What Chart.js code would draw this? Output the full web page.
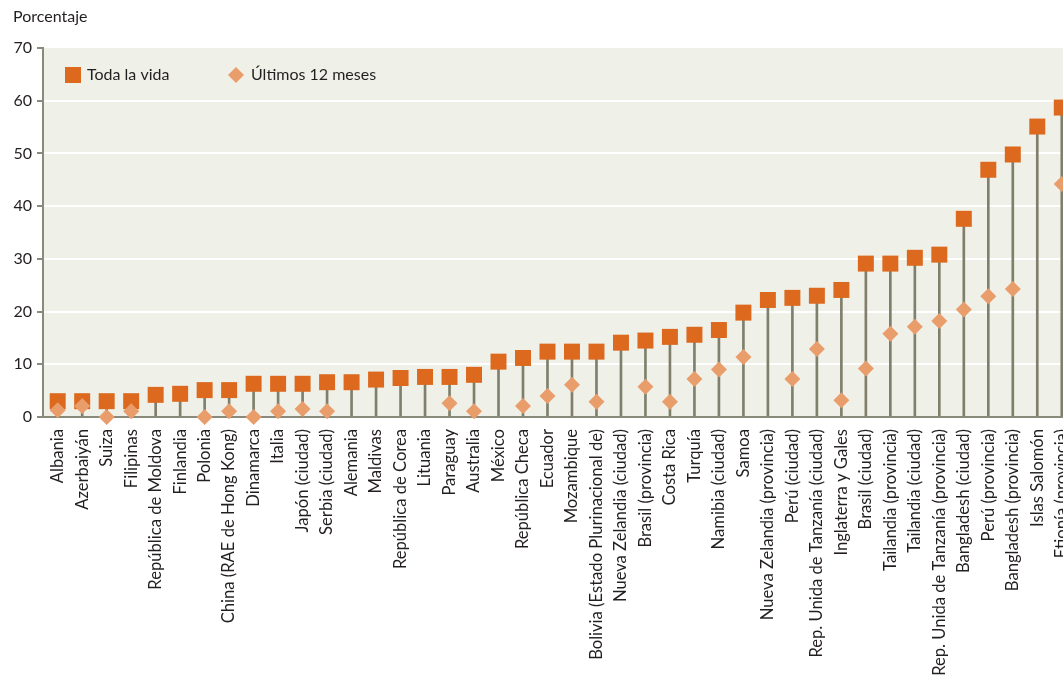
<!DOCTYPE html>
<html lang="es">
<head>
<meta charset="utf-8">
<title>Porcentaje</title>
<script src="https://cdn.jsdelivr.net/npm/chart.js@4.4.1/dist/chart.umd.min.js"></script>
<style>
  html, body { margin: 0; padding: 0; background: #fff; overflow: hidden; }
  .wrap { position: relative; width: 1063px; height: 680px; }
</style>
</head>
<body>
<div class="wrap"><canvas id="chart"></canvas></div>
<script>
const categories = [
  "Albania", "Azerbaiyán", "Suiza", "Filipinas", "República de Moldova",
  "Finlandia", "Polonia", "China (RAE de Hong Kong)", "Dinamarca", "Italia",
  "Japón (ciudad)", "Serbia (ciudad)", "Alemania", "Maldivas", "República de Corea",
  "Lituania", "Paraguay", "Australia", "México", "República Checa",
  "Ecuador", "Mozambique", "Bolivia (Estado Plurinacional de)", "Nueva Zelandia (ciudad)", "Brasil (provincia)",
  "Costa Rica", "Turquía", "Namibia (ciudad)", "Samoa", "Nueva Zelandia (provincia)",
  "Perú (ciudad)", "Rep. Unida de Tanzanía (ciudad)", "Inglaterra y Gales", "Brasil (ciudad)", "Tailandia (provincia)",
  "Tailandia (ciudad)", "Rep. Unida de Tanzanía (provincia)", "Bangladesh (ciudad)", "Perú (provincia)", "Bangladesh (provincia)",
  "Islas Salomón", "Etiopía (provincia)"
];

// Toda la vida
const lifetime = [
  3.0, 3.0, 3.0, 3.0, 4.2,
  4.4, 5.1, 5.1, 6.3, 6.3,
  6.3, 6.6, 6.6, 7.1, 7.4,
  7.6, 7.6, 8.0, 10.5, 11.2,
  12.4, 12.4, 12.4, 14.1, 14.5,
  15.2, 15.6, 16.5, 19.8, 22.2,
  22.6, 23.0, 24.1, 29.1, 29.1,
  30.2, 30.8, 37.6, 46.9, 49.8,
  55.1, 58.7
];

// Últimos 12 meses (null = sin dato)
const last12 = [
  1.3, 2.1, 0.0, 1.1, null,
  null, 0.0, 1.1, 0.0, 1.1,
  1.5, 1.1, null, null, null,
  null, 2.6, 1.1, null, 2.1,
  4.0, 6.1, 2.9, null, 5.75,
  2.9, 7.2, 9.0, 11.4, null,
  7.2, 12.9, 3.2, 9.2, 15.8,
  17.1, 18.2, 20.4, 22.9, 24.3,
  null, 44.2
];

const yTicks = [0, 10, 20, 30, 40, 50, 60, 70];

const seriesNames = ["Toda la vida", "Últimos 12 meses"];

const colors = {
  lifetime: "#dc691e",
  last12: "#e99d6b",
  stem: "#7f7f6c",
  axis: "#8a8a7a",
  plotBg: "#eff0e7",
  grid: "#ffffff",
  text: "#231f20",
};

const FONT = 'Lato, "Open Sans", sans-serif';

const plotBackground = {
  id: "plotBackground",
  beforeDraw(chart) {
    const { ctx, chartArea } = chart;
    ctx.save();
    ctx.fillStyle = colors.plotBg;
    ctx.fillRect(chartArea.left, chartArea.top, chartArea.right - chartArea.left, chartArea.bottom - chartArea.top);
    ctx.restore();
  },
};

const annotations = {
  id: "annotations",
  afterDraw(chart) {
    const { ctx, chartArea } = chart;
    ctx.save();
    ctx.fillStyle = colors.text;
    ctx.textBaseline = "middle";
    ctx.textAlign = "left";
    ctx.font = "16px " + FONT;
    ctx.fillText("Porcentaje", 13, 17);

    // legend inside the plot
    const cy = chartArea.top + 27;
    const x1 = chartArea.left + 22;
    ctx.fillStyle = colors.lifetime;
    ctx.fillRect(x1, cy - 8, 16, 16);
    ctx.fillStyle = colors.text;
    ctx.fillText(seriesNames[0], x1 + 22, cy);

    const x2 = chartArea.left + 193;
    ctx.fillStyle = colors.last12;
    ctx.beginPath();
    ctx.moveTo(x2, cy - 8);
    ctx.lineTo(x2 + 8, cy);
    ctx.lineTo(x2, cy + 8);
    ctx.lineTo(x2 - 8, cy);
    ctx.closePath();
    ctx.fill();
    ctx.fillStyle = colors.text;
    ctx.fillText(seriesNames[1], x2 + 15, cy);
    ctx.restore();
  },
};

new Chart(document.getElementById("chart"), {
  type: "line",
  data: {
    datasets: [
      {
        label: seriesNames[1],
        data: last12.map((v, i) => ({ x: i, y: v })),
        showLine: false,
        pointStyle: "rectRot",
        pointRadius: 8,
        pointBorderWidth: 0,
        pointBackgroundColor: colors.last12,
        pointBorderColor: colors.last12,
        clip: false,
      },
      {
        label: seriesNames[0],
        data: lifetime.map((v, i) => ({ x: i, y: v })),
        showLine: false,
        pointStyle: "rect",
        pointRadius: 11.3,
        pointBorderWidth: 0,
        pointBackgroundColor: colors.lifetime,
        pointBorderColor: colors.lifetime,
        clip: false,
      },
      {
        type: "bar",
        label: "stems",
        data: lifetime.map((v, i) => ({ x: i, y: v })),
        backgroundColor: colors.stem,
        barThickness: 2,
        borderWidth: 0,
      },
    ],
  },
  options: {
    responsive: true,
    maintainAspectRatio: false,
    animation: false,
    events: [],
    layout: { autoPadding: false, padding: { top: 48, right: 0, bottom: 0, left: 0 } },
    plugins: {
      legend: { display: false },
      tooltip: { enabled: false },
    },
    scales: {
      x: {
        type: "linear",
        offset: false,
        min: -0.6,
        max: 41.05,
        grid: { display: false, drawTicks: false, offset: false },
        border: { display: true, color: colors.axis, width: 2 },
        ticks: {
          stepSize: 1,
          autoSkip: false,
          includeBounds: false,
          minRotation: 90,
          maxRotation: 90,
          padding: 12,
          color: colors.text,
          font: { family: FONT, size: 16.6 },
          callback: (v) => (Number.isInteger(v) ? categories[v] : ""),
        },
        afterFit(scale) {
          scale.height = 263;
          scale.paddingLeft = 0;
          scale.paddingRight = 0;
        },
      },
      y: {
        min: yTicks[0],
        max: yTicks[yTicks.length - 1],
        afterBuildTicks(scale) {
          scale.ticks = yTicks.map((v) => ({ value: v }));
        },
        grid: {
          color: (c) => (c.tick && c.tick.value > 0 && c.tick.value < 70 ? colors.grid : "rgba(0,0,0,0)"),
          lineWidth: 2,
          tickLength: 6,
          tickColor: colors.axis,
          tickWidth: 2,
        },
        border: { display: true, color: colors.axis, width: 2 },
        ticks: {
          padding: 5,
          color: colors.text,
          font: { family: FONT, size: 16 },
        },
        afterFit(scale) {
          scale.width = 43;
        },
      },
    },
  },
  plugins: [plotBackground, annotations],
});
</script>
</body>
</html>
